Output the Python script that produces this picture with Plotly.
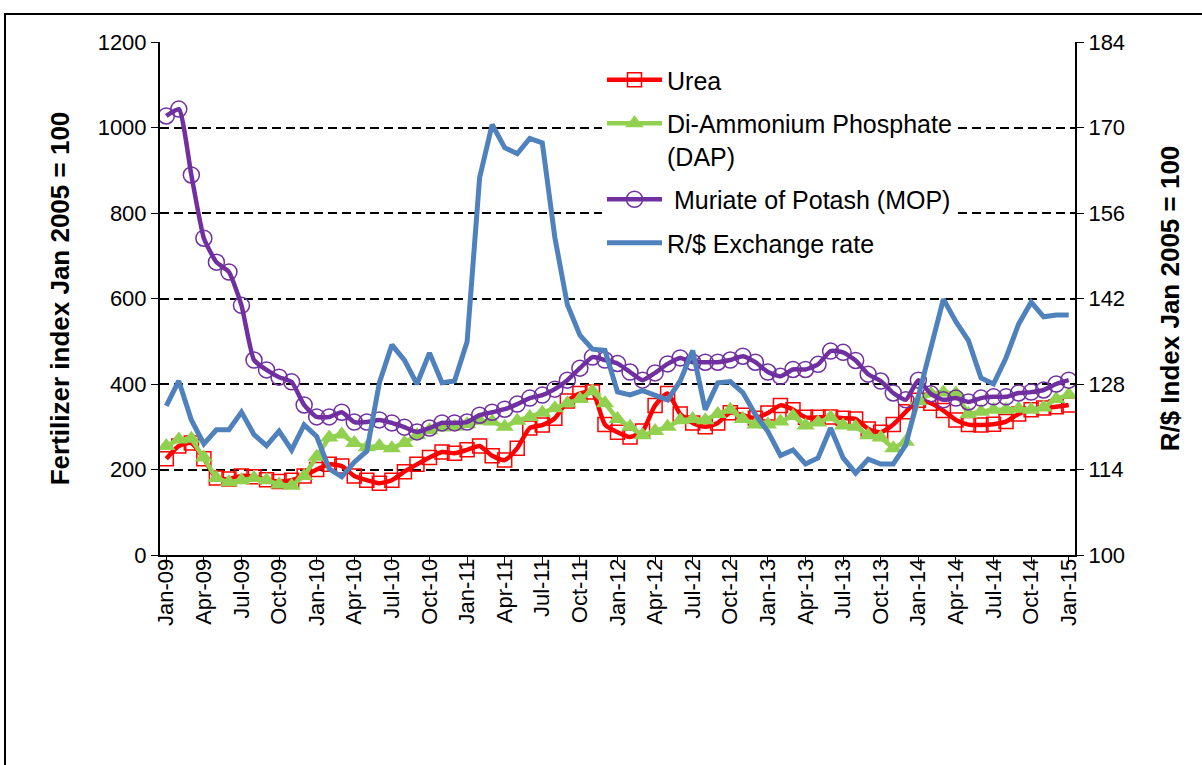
import plotly.graph_objects as go

months = []
for yr in range(9, 16):
    for m in ["Jan", "Feb", "Mar", "Apr", "May", "Jun", "Jul", "Aug", "Sep", "Oct", "Nov", "Dec"]:
        months.append(f"{m}-{yr:02d}")
months = months[:73]  # Jan-09 .. Jan-15

urea = [225, 255, 262, 225, 180, 178, 185, 183, 176, 172, 175, 185, 200, 212, 208, 185, 175, 168, 175,
        195, 212, 228, 241, 238, 246, 255, 232, 222, 250, 297, 304, 320, 360, 378, 381, 305, 287,
        276, 290, 350, 378, 330, 309, 300, 309, 333, 327, 320, 332, 350, 340, 322, 322, 323, 320, 318,
        295, 287, 305, 335, 362, 355, 338, 316, 305, 304, 306, 312, 330, 340, 344, 347, 351]

dap = [255, 270, 272, 228, 180, 170, 175, 180, 175, 165, 162, 185, 230, 275, 282, 262, 252, 255, 250,
       262, 280, 292, 298, 300, 306, 314, 312, 300, 314, 323, 333, 343, 355, 365, 383, 355, 318,
       300, 280, 290, 300, 315, 318, 315, 330, 340, 318, 305, 305, 312, 325, 303, 310, 322, 303, 300,
       280, 275, 250, 265, 360, 378, 380, 378, 330, 335, 340, 340, 342, 340, 345, 365, 375]

mop = [1027, 1043, 889, 741, 685, 662, 584, 456, 433, 416, 405, 351, 323, 323, 334, 311, 311, 316, 309,
       299, 288, 297, 309, 309, 311, 327, 334, 341, 353, 367, 374, 388, 409, 437, 463, 456, 448,
       428, 409, 426, 447, 461, 451, 451, 451, 456, 465, 451, 428, 418, 434, 434, 446, 477, 474, 455,
       423, 407, 379, 363, 409, 377, 363, 367, 358, 367, 370, 370, 379, 381, 386, 400, 409]

exch = [124.4, 128.5, 122.1, 118.2, 120.5, 120.5, 123.4, 119.7, 117.9, 120.3, 117.2, 121.3, 119.4,
        114.1, 112.8, 115.2, 117.0, 128.2, 134.4, 131.9, 128.0, 133.1, 128.2, 128.5, 134.9, 161.8,
        170.5, 166.7, 165.7, 168.2, 167.5, 152.0, 141.0, 136.0, 133.7, 133.5, 126.7, 126.2, 126.9,
        126.1, 125.4, 128.5, 133.5, 123.8, 128.2, 128.4, 126.6, 123.0, 120.2, 116.3, 117.2, 114.9,
        115.9, 120.8, 115.9, 113.4, 115.7, 114.9, 114.9, 118.0, 126.2, 134.4, 141.9, 138.2, 135.1,
        129.0, 128.0, 132.3, 137.8, 141.4, 139.0, 139.3, 139.3]

tick_labels = months[::3]

FONT = "Liberation Sans, Arial, sans-serif"

fig = go.Figure()
fig.add_trace(go.Scatter(
    x=months, y=urea, name="Urea", mode="lines+markers", legendgroup="a",
    line=dict(color="#FF0000", width=4.5, shape="spline", smoothing=0.6),
    marker=dict(symbol="square-open", size=14, color="#FF0000", line=dict(width=1.5, color="#FF0000"))))
fig.add_trace(go.Scatter(
    x=months, y=dap, name="Di-Ammonium Phosphate<br>(DAP)", mode="lines+markers", legendgroup="b",
    line=dict(color="#92D050", width=4.5),
    marker=dict(symbol="triangle-up", size=16, color="#92D050")))
fig.add_trace(go.Scatter(
    x=months, y=mop, name=" Muriate of Potash (MOP)", mode="lines+markers", legendgroup="c",
    line=dict(color="#7030A0", width=4.5, shape="spline", smoothing=0.5),
    marker=dict(symbol="circle-open", size=16, color="#7030A0", line=dict(width=1.5, color="#7030A0"))))
fig.add_trace(go.Scatter(
    x=months, y=exch, name="R/$ Exchange rate", mode="lines", legendgroup="d", yaxis="y2",
    line=dict(color="#4F81BD", width=5)))

W, H = 1202, 765
L, R, T, B = 160, 127, 42, 210
pw, ph = W - L - R, H - T - B

fig.update_layout(
    width=W, height=H,
    margin=dict(l=L, r=R, t=T, b=B, autoexpand=False),
    paper_bgcolor="white", plot_bgcolor="white",
    font=dict(family=FONT, size=22, color="black"),
    xaxis=dict(type="category", range=[-0.5, 72.5], tickmode="array",
               tickvals=tick_labels, ticktext=tick_labels, tickangle=-90,
               showline=True, linecolor="black", linewidth=2, ticks="outside",
               ticklen=7, tickcolor="black", showgrid=False, zeroline=False,
               tickfont=dict(size=22), ticklabelstandoff=-14),
    yaxis=dict(range=[0, 1200], dtick=200, tick0=0, showline=True, linecolor="black", linewidth=2,
               ticks="outside", ticklen=7, tickcolor="black",
               showgrid=True, gridcolor="black", griddash="9px,5px", gridwidth=1.5,
               zeroline=False, tickfont=dict(size=22),
               title=dict(text="<b>Fertilizer index Jan 2005 = 100</b>", font=dict(size=26), standoff=21)),
    yaxis2=dict(range=[100, 184], dtick=14, tick0=100, overlaying="y", side="right", showline=True,
                linecolor="black", linewidth=2, ticks="outside", ticklen=7, tickcolor="black",
                showgrid=False, zeroline=False, tickfont=dict(size=22),
                title=dict(text="<b>R/$ Index Jan 2005 = 100</b>", font=dict(size=26), standoff=37)),
    legend=dict(x=(602 - L) / pw, y=(H - B - 57) / ph, xanchor="left", yanchor="top",
                bgcolor="white", font=dict(size=25), traceorder="grouped", valign="top",
                tracegroupgap=8, itemwidth=55),
    showlegend=True,
    shapes=[dict(type="rect", xref="paper", yref="paper",
                 x0=(5 - L) / pw, x1=(1215 - L) / pw,
                 y0=(H - B - 780) / ph, y1=(H - B - 14) / ph,
                 line=dict(color="black", width=2), fillcolor="rgba(0,0,0,0)", layer="below")],
)

fig.write_html("out.html", config={"displayModeBar": False},
               post_script="document.body.style.margin='0';")
